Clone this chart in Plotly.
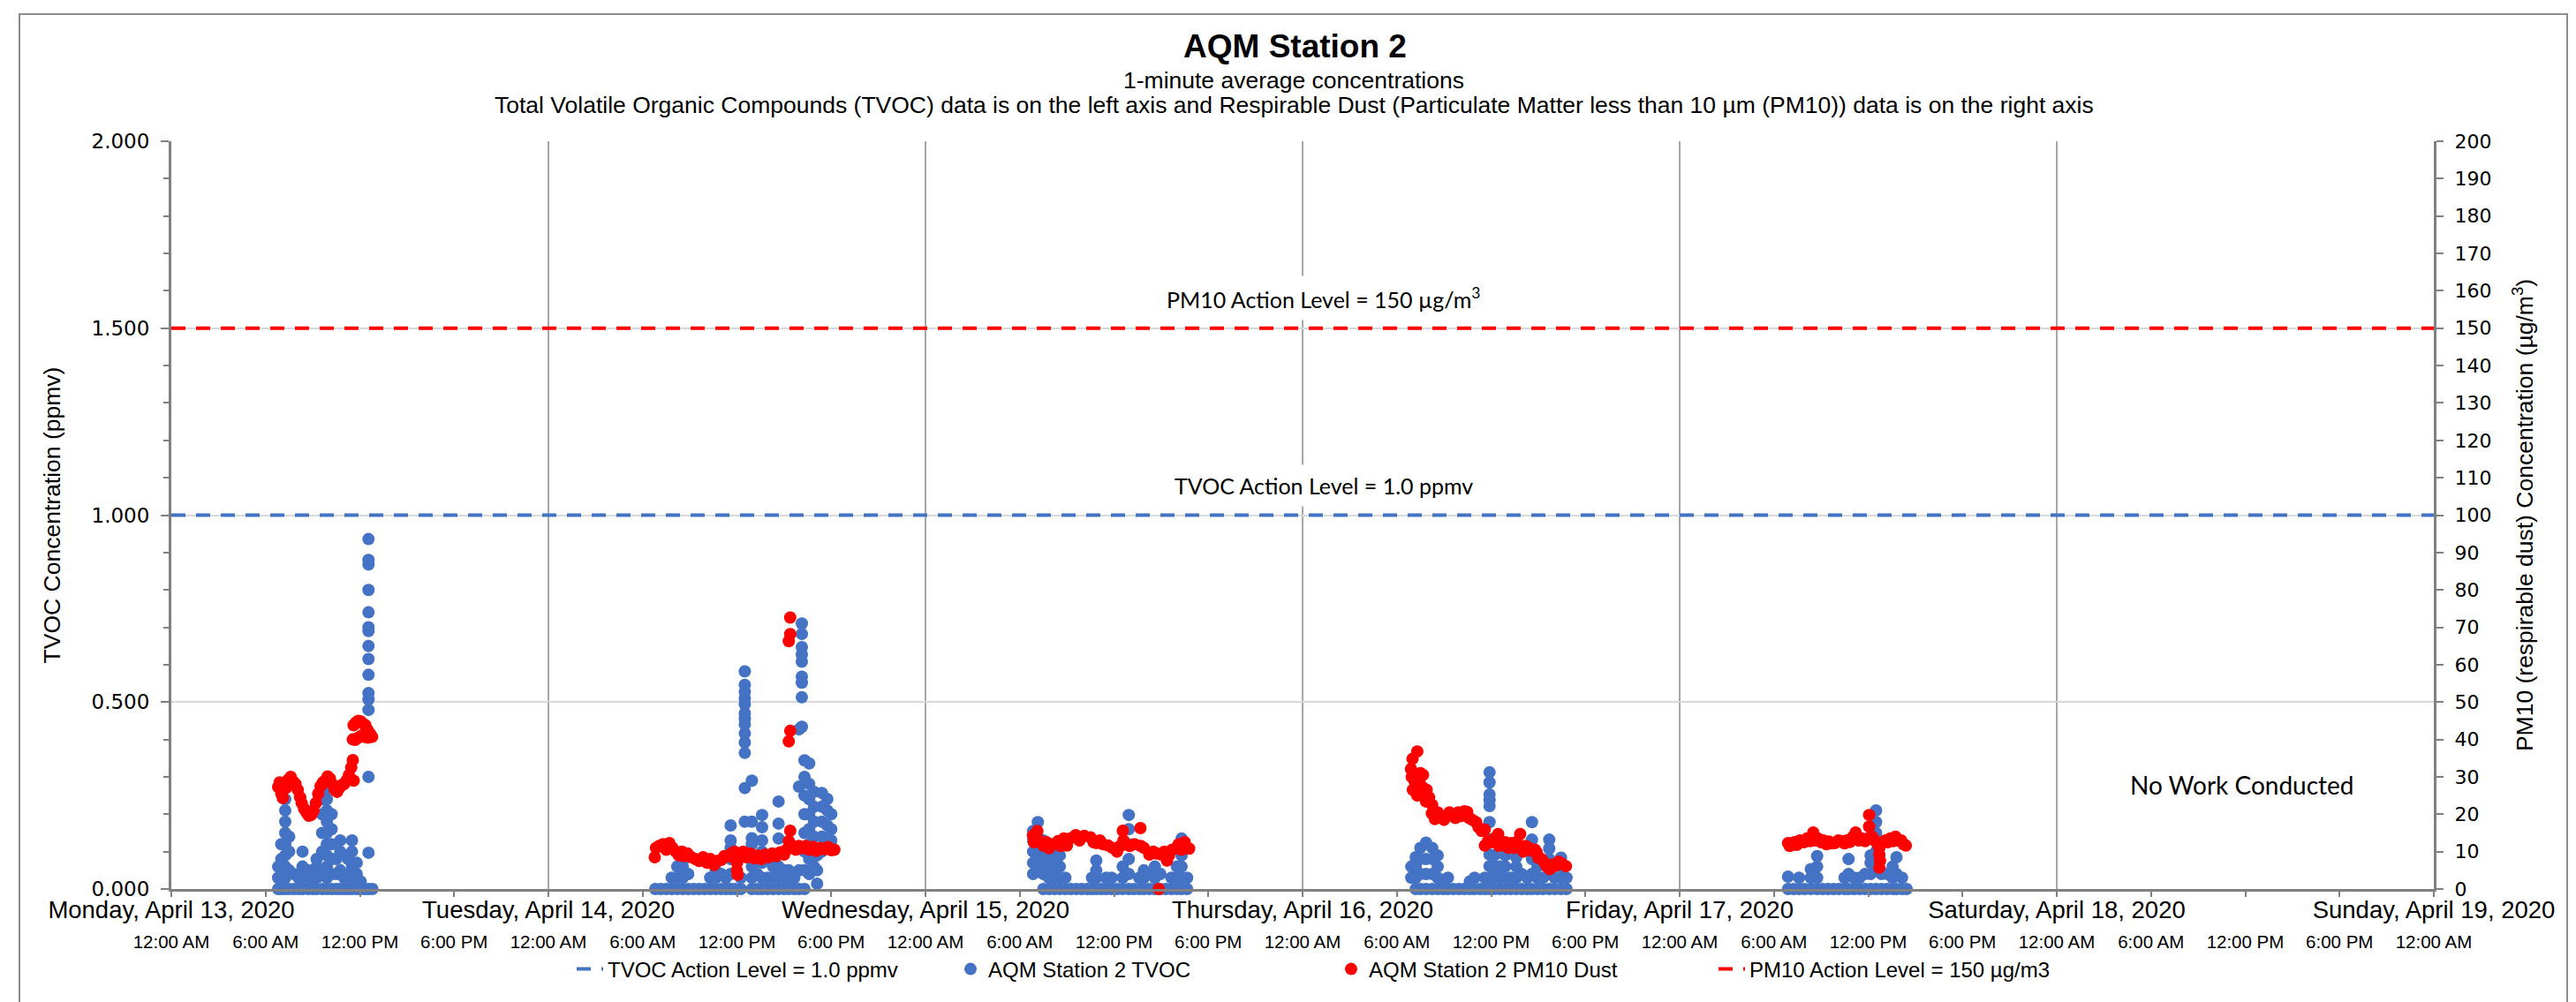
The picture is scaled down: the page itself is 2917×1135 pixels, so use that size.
import pandas as pd
import plotly.graph_objects as go

# ---------------- data ----------------
START = pd.Timestamp("2020-04-13 00:00")
END = pd.Timestamp("2020-04-19 00:00")

DAY_LABELS = ["Monday, April 13, 2020", "Tuesday, April 14, 2020", "Wednesday, April 15, 2020",
              "Thursday, April 16, 2020", "Friday, April 17, 2020", "Saturday, April 18, 2020",
              "Sunday, April 19, 2020"]
TIME_LABELS = ["12:00 AM", "6:00 AM", "12:00 PM", "6:00 PM"] * 6 + ["12:00 AM"]

TVOC_ACTION_LEVEL = 1.0      # ppmv
PM10_ACTION_LEVEL = 150.0    # ug/m3

# TVOC (ppmv): (hours since Mon 00:00, [values at that time])
TVOC_MON = [
    (6.8, [0, 0.03, 0.06]), (7.0, [0, 0.04, 0.08, 0.12]),
    (7.25, [0, 0.03, 0.06, 0.09, 0.12, 0.15, 0.18, 0.21, 0.24, 0.27]),
    (7.5, [0, 0.05, 0.1, 0.14]), (7.8, [0, 0.04]), (8.1, [0, 0.03]),
    (8.35, [0, 0.03, 0.06, 0.1]), (8.7, [0, 0.03, 0.05]), (9.0, [0, 0.03]),
    (9.25, [0, 0.03, 0.06, 0.08]), (9.6, [0, 0.05, 0.1, 0.15, 0.2, 0.24]),
    (9.9, [0, 0.03, 0.06, 0.09, 0.12, 0.15, 0.18, 0.21, 0.24, 0.27]),
    (10.2, [0, 0.04, 0.08, 0.12, 0.16, 0.2]), (10.5, [0, 0.04, 0.08]),
    (10.75, [0, 0.05, 0.1, 0.13]), (11.0, [0, 0.03]), (11.25, [0, 0.04, 0.08]),
    (11.5, [0, 0.03, 0.06, 0.1, 0.13]), (11.8, [0, 0.04, 0.07]), (12.05, [0, 0.02]),
    (12.3, [0]),
    (12.55, [0, 0.097, 0.3, 0.479, 0.507, 0.524, 0.573, 0.615, 0.65, 0.69, 0.7, 0.74, 0.8,
             0.868, 0.88, 0.936]),
    (12.8, [0]),
]
TVOC_TUE = [
    (30.8, [0]), (31.15, [0]), (31.5, [0]), (31.85, [0, 0.03]), (32.2, [0, 0.03, 0.06]),
    (32.55, [0, 0.03, 0.06, 0.075]), (32.9, [0, 0.04]), (33.25, [0]), (33.6, [0]),
    (33.95, [0]), (34.3, [0, 0.03]), (34.65, [0, 0.03, 0.05]), (35.0, [0, 0.04]),
    (35.3, [0, 0.03]), (35.6, [0, 0.04, 0.08, 0.11, 0.13, 0.17]), (35.9, [0]),
    (36.25, [0, 0.03]),
    (36.5, [0.18, 0.27, 0.364, 0.392, 0.416, 0.44, 0.455, 0.47, 0.494, 0.51, 0.527, 0.546, 0.582]),
    (36.95, [0, 0.03, 0.06, 0.09, 0.12, 0.136, 0.18, 0.29]), (37.3, [0, 0.04]),
    (37.6, [0, 0.03, 0.07, 0.1, 0.13, 0.165, 0.198]), (37.95, [0, 0.03]),
    (38.3, [0, 0.03, 0.06]), (38.65, [0, 0.03, 0.06, 0.135, 0.175, 0.234]),
    (39.0, [0, 0.03, 0.05]), (39.3, [0, 0.02, 0.05]), (39.65, [0, 0.03]),
    (39.95, [0, 0.05, 0.274, 0.427]),
    (40.13, [0.434, 0.513, 0.552, 0.568, 0.608, 0.627, 0.647, 0.682, 0.71]),
    (40.3, [0, 0.05, 0.1, 0.15, 0.2, 0.25, 0.3, 0.344]),
    (40.6, [0.04, 0.08, 0.12, 0.16, 0.2, 0.24, 0.281, 0.336]),
    (40.9, [0.06, 0.1, 0.14, 0.18, 0.22, 0.26]), (41.1, [0.014, 0.05, 0.09]),
    (41.4, [0.1, 0.14, 0.18, 0.22, 0.257]), (41.75, [0.13, 0.17, 0.21, 0.241]),
    (42.0, [0.13, 0.16, 0.2]),
]
TVOC_WED = [
    (54.85, [0.04, 0.07, 0.1, 0.13, 0.155]), (55.15, [0.05, 0.08, 0.11, 0.14, 0.179]),
    (55.5, [0, 0.04, 0.07, 0.1, 0.13]), (55.85, [0, 0.03, 0.06, 0.09, 0.12]),
    (56.2, [0, 0.03, 0.06, 0.09, 0.12]), (56.55, [0, 0.03, 0.06, 0.09]), (56.9, [0, 0.03]),
    (57.25, [0]), (57.6, [0]), (57.95, [0]), (58.3, [0]), (58.6, [0, 0.03]),
    (58.87, [0, 0.03, 0.05, 0.076]), (59.2, [0]), (59.5, [0, 0.03]), (59.85, [0, 0.03]),
    (60.2, [0]), (60.55, [0, 0.03, 0.06]), (60.94, [0, 0.04, 0.08, 0.12, 0.16, 0.198]),
    (61.25, [0]), (61.6, [0, 0.03]), (61.9, [0, 0.03, 0.05]), (62.25, [0, 0.04]),
    (62.6, [0, 0.03, 0.06]), (62.95, [0, 0.04]), (63.3, [0]), (63.65, [0, 0.03]),
    (64.0, [0, 0.03, 0.06]), (64.3, [0, 0.03, 0.06, 0.09, 0.12, 0.135]), (64.65, [0, 0.03]),
]
TVOC_THU = [
    (78.92, [0.03, 0.06]), (79.2, [0, 0.03, 0.06, 0.085]), (79.5, [0, 0.04, 0.08, 0.11]),
    (79.86, [0, 0.04, 0.08, 0.124]), (80.25, [0, 0.04, 0.08, 0.11]),
    (80.6, [0, 0.03, 0.06, 0.09]), (80.95, [0, 0.02]), (81.25, [0, 0.03]), (81.6, [0]),
    (81.95, [0]), (82.3, [0]), (82.65, [0, 0.02]), (82.95, [0, 0.03]), (83.3, [0]),
    (83.6, [0, 0.03]),
    (83.9, [0, 0.03, 0.061, 0.092, 0.132, 0.179, 0.222, 0.238, 0.253, 0.285, 0.312]),
    (84.2, [0, 0.03, 0.06, 0.09]), (84.55, [0, 0.03, 0.06]), (84.9, [0, 0.03, 0.06, 0.09]),
    (85.25, [0, 0.03]), (85.6, [0, 0.03, 0.06, 0.085]), (85.95, [0, 0.04]), (86.3, [0, 0.03]),
    (86.6, [0, 0.04, 0.08, 0.11, 0.132, 0.179]), (86.95, [0, 0.03, 0.06]), (87.3, [0, 0.03]),
    (87.7, [0, 0.04, 0.08, 0.108, 0.132]), (88.05, [0, 0.03]),
    (88.45, [0, 0.03, 0.06, 0.084]), (88.8, [0, 0.03]),
]
TVOC_FRI = [
    (102.9, [0, 0.033]), (103.25, [0]), (103.6, [0, 0.03]), (103.95, [0]),
    (104.35, [0, 0.03, 0.053]), (104.75, [0, 0.03, 0.06, 0.088]), (105.1, [0]), (105.45, [0]),
    (105.8, [0]), (106.15, [0]), (106.5, [0, 0.03]), (106.75, [0, 0.04, 0.08]),
    (107.1, [0, 0.03]), (107.45, [0, 0.03]), (107.8, [0, 0.04]), (108.15, [0, 0.04, 0.07, 0.09]),
    (108.5, [0, 0.05, 0.1, 0.15, 0.179, 0.21]), (108.85, [0, 0.04]), (109.2, [0, 0.04]),
    (109.55, [0, 0.03, 0.06]), (109.8, [0, 0.04, 0.085]), (110.15, [0, 0.03]), (110.45, [0]),
]

# PM10 dust (ug/m3): (hours since Mon 00:00, value)
PM10_MON = [
    (6.8, 27.3), (6.9, 28.5), (7.0, 25.5), (7.1, 24.3), (7.3, 27.0), (7.45, 29.3), (7.6, 30.0),
    (7.75, 28.8), (7.9, 28.1), (8.05, 26.5), (8.2, 24.5), (8.3, 23.0), (8.45, 21.5), (8.6, 20.5),
    (8.75, 19.6), (8.9, 19.8), (9.05, 21.0), (9.2, 23.0), (9.35, 25.5), (9.5, 27.5), (9.65, 28.5),
    (9.8, 29.0), (9.95, 30.1), (10.1, 29.5), (10.25, 28.0), (10.4, 26.5), (10.55, 26.0),
    (10.7, 27.0), (10.85, 27.8), (11.0, 28.1), (11.15, 29.0), (11.3, 30.5), (11.45, 32.5),
    (11.55, 34.5), (11.6, 29.0), (11.55, 40.0), (11.6, 43.8), (11.75, 44.5), (11.9, 45.0),
    (12.05, 44.8), (12.2, 44.2), (12.35, 43.8), (12.5, 42.5), (12.65, 41.5), (12.78, 40.7),
    (11.7, 39.9), (11.9, 40.5), (12.1, 41.0), (12.3, 40.7), (12.5, 40.5),
]
PM10_TUE = [
    (30.77, 8.5), (30.85, 11.0), (31.05, 11.5), (31.3, 12.0), (31.5, 10.5), (31.7, 12.3),
    (31.9, 11.0), (32.1, 10.0), (32.3, 9.0), (32.5, 10.0), (32.65, 8.8), (32.85, 9.5),
    (33.1, 8.5), (33.35, 8.0), (33.6, 7.5), (33.85, 8.5), (34.1, 7.0), (34.3, 8.0), (34.55, 6.4),
    (34.75, 7.5), (35.0, 7.8), (35.2, 8.8), (35.45, 8.7), (35.65, 9.5), (35.85, 10.0),
    (36.0, 7.0), (36.0, 5.0), (36.05, 3.8), (36.2, 9.0), (36.4, 10.0), (36.6, 8.5), (36.85, 9.5),
    (37.1, 8.2), (37.3, 9.0), (37.55, 8.0), (37.8, 9.2), (38.0, 8.5), (38.25, 9.5), (38.5, 8.8),
    (38.75, 9.8), (39.0, 9.2), (39.15, 10.5), (39.3, 12.8), (39.39, 15.6), (39.55, 11.5),
    (39.75, 10.5), (39.95, 11.5), (40.15, 10.9), (40.4, 11.5), (40.6, 10.5), (40.85, 11.3),
    (41.05, 10.2), (41.3, 11.0), (41.55, 10.6), (41.8, 11.2), (42.0, 10.4), (42.2, 10.5),
    (39.39, 72.6), (39.39, 68.2), (39.3, 66.3), (39.39, 42.3), (39.3, 39.5),
]
PM10_WED = [
    (54.84, 14.3), (54.9, 12.5), (55.12, 15.5), (55.2, 13.2), (55.5, 11.6), (55.7, 12.5),
    (55.87, 10.9), (56.1, 12.0), (56.44, 12.8), (56.6, 11.5), (56.8, 13.5), (57.0, 11.6),
    (57.2, 13.5), (57.56, 14.4), (57.8, 13.0), (58.1, 14.2), (58.5, 13.8), (58.7, 12.5),
    (58.87, 12.3), (59.1, 13.0), (59.3, 12.0), (59.62, 11.6), (59.9, 11.0), (60.19, 10.0),
    (60.4, 11.5), (60.56, 15.6), (60.6, 13.0), (60.75, 12.0), (61.0, 11.5), (61.3, 12.0),
    (61.68, 16.3), (61.7, 11.5), (61.9, 11.0), (62.25, 9.2), (62.5, 10.0), (62.7, 9.5),
    (63.0, 9.2), (63.2, 10.0), (63.37, 7.6), (63.5, 9.0), (63.7, 10.5), (64.0, 11.0),
    (64.12, 12.0), (64.3, 10.5), (64.5, 12.5), (64.78, 10.8), (62.85, 0.0),
]
PM10_THU = [
    (78.9, 32.1), (78.95, 30.0), (79.0, 34.8), (79.02, 26.5), (79.15, 28.5), (79.3, 36.8),
    (79.3, 25.0), (79.48, 28.1), (79.5, 31.0), (79.67, 30.5), (79.7, 27.0), (79.86, 23.4),
    (79.9, 26.5), (80.05, 24.5), (80.23, 20.2), (80.25, 22.5), (80.42, 18.7), (80.6, 20.5),
    (80.8, 19.5), (81.0, 18.5), (81.17, 19.4), (81.35, 20.5), (81.55, 19.8), (81.73, 19.0),
    (81.9, 20.5), (82.1, 19.5), (82.3, 20.8), (82.48, 20.6), (82.6, 19.0), (82.8, 18.5),
    (83.04, 17.9), (83.2, 16.5), (83.4, 15.5), (83.6, 15.9), (83.6, 11.6), (83.8, 12.8),
    (84.0, 12.5), (84.2, 13.5), (84.45, 14.7), (84.5, 11.5), (84.7, 12.0), (84.9, 12.5),
    (85.1, 11.0), (85.29, 12.3), (85.45, 11.0), (85.6, 12.5), (85.85, 14.7), (85.9, 11.5),
    (86.04, 10.0), (86.2, 11.5), (86.4, 11.0), (86.6, 10.2), (86.79, 10.5), (86.9, 9.8),
    (87.0, 8.4), (87.2, 8.0), (87.4, 7.0), (87.55, 6.0), (87.73, 5.3), (87.9, 6.5),
    (88.1, 6.2), (88.29, 7.3), (88.5, 6.8), (88.76, 6.1),
]
PM10_FRI = [
    (102.9, 12.3), (103.0, 11.5), (103.3, 12.5), (103.45, 11.8), (103.65, 13.0), (103.9, 12.5),
    (104.1, 13.5), (104.3, 12.8), (104.5, 15.1), (104.55, 13.0), (104.8, 13.5), (105.0, 12.5),
    (105.15, 13.0), (105.35, 12.0), (105.5, 12.7), (105.7, 12.2), (105.9, 12.3), (106.1, 13.0),
    (106.3, 12.8), (106.5, 12.2), (106.65, 13.0), (106.85, 12.6), (107.0, 13.8), (107.2, 15.1),
    (107.4, 13.0), (107.6, 13.5), (107.8, 12.8), (107.97, 13.5), (108.06, 19.8), (108.06, 16.7),
    (108.25, 14.0), (108.4, 13.0), (108.6, 12.0), (108.71, 11.0), (108.71, 9.2), (108.71, 5.7),
    (108.75, 7.5), (108.9, 12.5), (109.09, 13.0), (109.25, 12.5), (109.4, 13.5), (109.6, 12.8),
    (109.74, 14.0), (109.9, 13.0), (110.1, 13.0), (110.25, 12.0), (110.4, 11.6),
]

# ---------------- assemble ----------------
def to_time(hours):
    return [START + pd.Timedelta(hours=h) for h in hours]

tvoc_h, tvoc_v = [], []
for day in (TVOC_MON, TVOC_TUE, TVOC_WED, TVOC_THU, TVOC_FRI):
    for h, vals in day:
        for v in vals:
            tvoc_h.append(h)
            tvoc_v.append(v)

pm_h, pm_v = [], []
for day in (PM10_MON, PM10_TUE, PM10_WED, PM10_THU, PM10_FRI):
    for h, v in day:
        pm_h.append(h)
        pm_v.append(v)

midnights = list(pd.date_range(START, END, freq="D"))
six_hours = list(pd.date_range(START, END, freq="6h"))

# ---------------- layout geometry ----------------
W, H = 2917, 1135
ML, MR, MT, MB = 186, 169, 152, 136
PW, PH = W - ML - MR, H - MT - MB

def px_x(X):
    return (X - ML) / PW

def px_y(Y):
    return (H - MB - Y) / PH

BLUE = "#4472C4"
RED = "#FF0000"
AXIS = "#808080"
FONT = "Liberation Sans, Arial, sans-serif"
TICKFONT = "DejaVu Sans, Verdana, sans-serif"
CAL = "Lato, Carlito, Calibri, sans-serif"

fig = go.Figure()
fig.add_trace(go.Scatter(
    x=[START, END], y=[TVOC_ACTION_LEVEL] * 2, mode="lines",
    name="TVOC Action Level = 1.0 ppmv",
    line=dict(color=BLUE, width=4, dash="16px,12px"), yaxis="y", hoverinfo="skip"))
fig.add_trace(go.Scatter(
    x=to_time(tvoc_h), y=tvoc_v, mode="markers", name="AQM Station 2 TVOC",
    marker=dict(color=BLUE, size=14, line=dict(width=0)), yaxis="y", cliponaxis=False))
fig.add_trace(go.Scatter(
    x=to_time(pm_h), y=pm_v, mode="markers", name="AQM Station 2 PM10 Dust",
    marker=dict(color=RED, size=14, line=dict(width=0)), yaxis="y2", cliponaxis=False))
fig.add_trace(go.Scatter(
    x=[START, END], y=[PM10_ACTION_LEVEL] * 2, mode="lines",
    name="PM10 Action Level = 150 µg/m3",
    line=dict(color=RED, width=4, dash="16px,12px"), yaxis="y2", hoverinfo="skip"))
# empty helper trace so that the second (time-of-day) x axis is drawn
fig.add_trace(go.Scatter(
    x=[START, END], y=[None, None], mode="markers", xaxis="x2", yaxis="y",
    showlegend=False, hoverinfo="skip"))

fig.update_layout(
    width=W, height=H,
    margin=dict(l=ML, r=MR, t=MT, b=MB, autoexpand=False),
    paper_bgcolor="white", plot_bgcolor="white",
    font=dict(family=FONT, color="black"),
    showlegend=True,
    title=dict(text="<b>AQM Station 2</b>", x=0.5, xanchor="center",
               y=1 - 44 / H, yanchor="middle",
               font=dict(family=FONT, size=37, color="black")),
    xaxis=dict(
        type="date", range=[START, END],
        tickmode="array", tickvals=midnights, ticktext=DAY_LABELS,
        ticks="", tickangle=0, tickfont=dict(family=FONT, size=27.5, color="black"),
        ticklabelstandoff=-3,
        showgrid=True, gridcolor="#a6a6a6", gridwidth=2,
        showline=True, linecolor=AXIS, linewidth=3, zeroline=False),
    xaxis2=dict(
        type="date", range=[START, END], overlaying="x", anchor="y", side="bottom",
        tickmode="array", tickvals=six_hours, ticktext=TIME_LABELS,
        ticks="outside", ticklen=8, tickwidth=2, tickcolor=AXIS, tickangle=0,
        tickfont=dict(family=FONT, size=20.5, color="black"),
        ticklabelstandoff=33,
        showgrid=False, showline=False, zeroline=False),
    yaxis=dict(
        range=[0, 2], tickmode="linear", tick0=0, dtick=0.5, tickformat=".3f",
        ticks="outside", ticklen=9, tickwidth=2, tickcolor=AXIS,
        minor=dict(dtick=0.1, ticks="outside", ticklen=6, tickwidth=2, tickcolor=AXIS,
                   showgrid=False),
        tickfont=dict(family=TICKFONT, size=23, color="black"), ticklabelstandoff=8,
        showgrid=True, gridcolor="#d9d9d9", gridwidth=2,
        showline=True, linecolor=AXIS, linewidth=3, zeroline=False,
        title=dict(text="TVOC Concentration (ppmv)", standoff=28,
                   font=dict(family=FONT, size=26.5, color="black"))),
    yaxis2=dict(
        range=[0, 200], tickmode="linear", tick0=0, dtick=10, overlaying="y", side="right",
        anchor="x",
        ticks="outside", ticklen=8, tickwidth=2, tickcolor=AXIS,
        tickfont=dict(family=TICKFONT, size=22, color="black"), ticklabelstandoff=8,
        showgrid=False, showline=True, linecolor=AXIS, linewidth=3, zeroline=False,
        title=dict(text="PM10 (respirable dust) Concentration (µg/m<sup>3</sup>)", standoff=30,
                   font=dict(family=FONT, size=26.5, color="black"))),
    legend=dict(orientation="h", x=px_x(1502), xanchor="center", y=px_y(1090),
                yanchor="middle", font=dict(family=FONT, size=24, color="black"),
                entrywidth=386, entrywidthmode="pixels", bgcolor="rgba(0,0,0,0)",
                itemclick=False, itemdoubleclick=False),
)

subtitle_font = dict(family=FONT, size=26.5, color="black")
fig.add_annotation(text="1-minute average concentrations", xref="paper", yref="paper",
                   x=px_x(1457), y=px_y(83), xanchor="center", yanchor="middle",
                   showarrow=False, font=subtitle_font)
fig.add_annotation(text="Total Volatile Organic Compounds (TVOC) data is on the left axis and "
                        "Respirable Dust (Particulate Matter less than 10 µm (PM10)) data is on the right axis",
                   xref="paper", yref="paper", x=px_x(1457), y=px_y(111),
                   xanchor="center", yanchor="middle", showarrow=False, font=subtitle_font)

label_font = dict(family=CAL, size=25, color="black")
fig.add_annotation(text="PM10 Action Level = 150 µg/m<sup>3</sup>", xref="paper", yref="paper",
                   x=px_x(1491), y=px_y(329), xanchor="center", yanchor="middle",
                   showarrow=False, font=label_font, bgcolor="white", borderpad=8)
fig.add_annotation(text="TVOC Action Level = 1.0 ppmv", xref="paper", yref="paper",
                   x=px_x(1491), y=px_y(542), xanchor="center", yanchor="middle",
                   showarrow=False, font=label_font, bgcolor="white", borderpad=8)
fig.add_annotation(text="No Work Conducted", xref="paper", yref="paper",
                   x=px_x(2531), y=px_y(881), xanchor="center", yanchor="middle",
                   showarrow=False, font=dict(family=CAL, size=28, color="black"))

# outer chart border
fig.add_shape(type="rect", xref="paper", yref="paper",
              x0=px_x(14), x1=px_x(2899), y0=px_y(1131), y1=px_y(8),
              line=dict(color="#8c8c8c", width=2), fillcolor="rgba(0,0,0,0)", layer="below")

fig.write_html("out.html")
